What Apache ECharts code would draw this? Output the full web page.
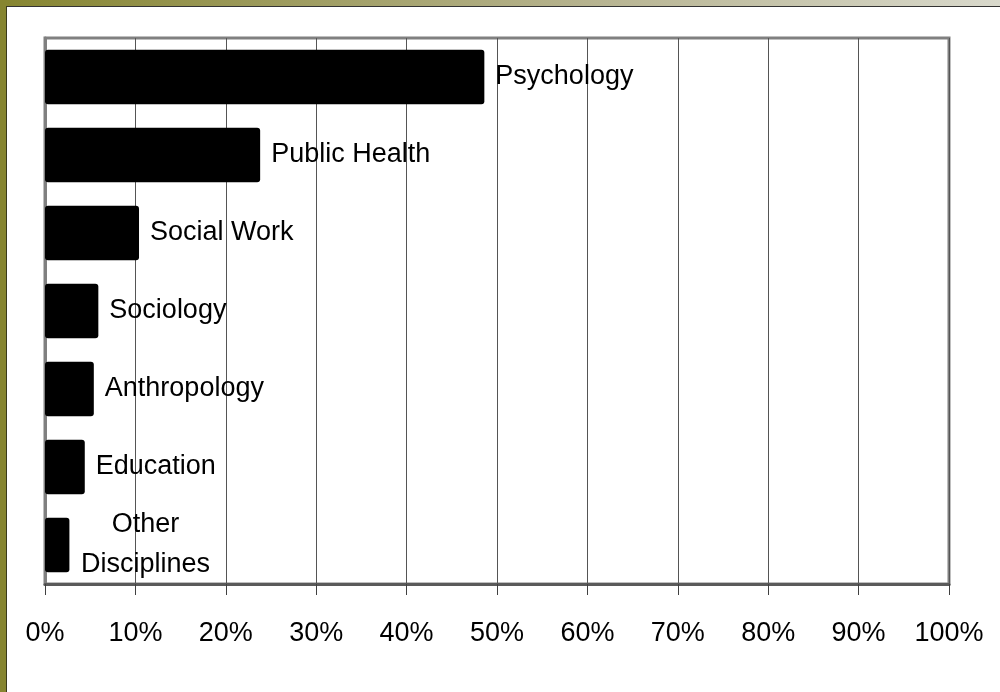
<!DOCTYPE html>
<html>
<head>
<meta charset="utf-8">
<script src="https://cdn.jsdelivr.net/npm/echarts@6/dist/echarts.min.js"></script>
<style>
  html, body { margin: 0; padding: 0; background: #fff; }
  #chart { width: 1000px; height: 692px; }
</style>
</head>
<body>
<div id="chart"></div>
<script>
// disciplines, top to bottom
var categories = ['Psychology', 'Public Health', 'Social Work', 'Sociology', 'Anthropology', 'Education', 'Other\nDisciplines'];
// share of total, in percent
var shares = [48.6, 23.8, 10.4, 5.9, 5.4, 4.4, 2.7];
var axisMax = 100;
var axisStep = 10;

var labelFont = '"Liberation Sans", Arial, sans-serif';

var barData = [];
for (var i = 0; i < shares.length; i++) {
    var item = { value: shares[i], name: categories[i] };
    if (categories[i].indexOf('\n') >= 0) {
        // multi-line label sits centred to the right of the bar
        item.label = { align: 'center', distance: 76, lineHeight: 40 };
    }
    barData.push(item);
}

var chart = echarts.init(document.getElementById('chart'));
chart.setOption({
    animation: false,
    backgroundColor: '#fff',
    graphic: [
        {
            type: 'rect', left: 0, top: 0, z: 10,
            shape: { width: 1000, height: 6 },
            style: {
                fill: new echarts.graphic.LinearGradient(0, 0, 1, 0, [
                    { offset: 0, color: '#868530' },
                    { offset: 0.6, color: '#b7b491' },
                    { offset: 1, color: '#d9d9cc' }
                ])
            }
        },
        { type: 'rect', left: 0, top: 6, z: 10, shape: { width: 1000, height: 1 }, style: { fill: '#333' } },
        { type: 'rect', left: 0, top: 0, z: 11, shape: { width: 6, height: 692 }, style: { fill: '#868530' } },
        { type: 'rect', left: 6, top: 6, z: 11, shape: { width: 1, height: 686 }, style: { fill: '#3a3a1a' } }
    ],
    grid: {
        left: 45, right: 51, top: 38, bottom: 108,
        show: true, borderColor: '#808080', borderWidth: 3,
        outerBoundsMode: 'none'
    },
    xAxis: {
        type: 'value',
        min: 0, max: axisMax, interval: axisStep,
        axisLine: { show: true, lineStyle: { color: '#5a5a5a', width: 3 } },
        axisTick: { show: true, length: 11, lineStyle: { color: '#404040', width: 1 } },
        axisLabel: {
            formatter: '{value}%', margin: 36,
            fontFamily: labelFont, fontSize: 27, color: '#000'
        },
        splitLine: { show: true, lineStyle: { color: '#555', width: 1 } }
    },
    yAxis: {
        type: 'category',
        data: categories,
        inverse: true,
        axisLine: { show: true, lineStyle: { color: '#808080', width: 3 } },
        axisTick: { show: false },
        axisLabel: { show: false },
        splitLine: { show: false }
    },
    series: [{
        type: 'bar',
        data: barData,
        barWidth: '70%',
        itemStyle: { color: '#000', borderRadius: 3 },
        label: {
            show: true, position: 'right', distance: 11,
            formatter: '{b}',
            fontFamily: labelFont, fontSize: 27, color: '#000'
        }
    }]
});
</script>
</body>
</html>
